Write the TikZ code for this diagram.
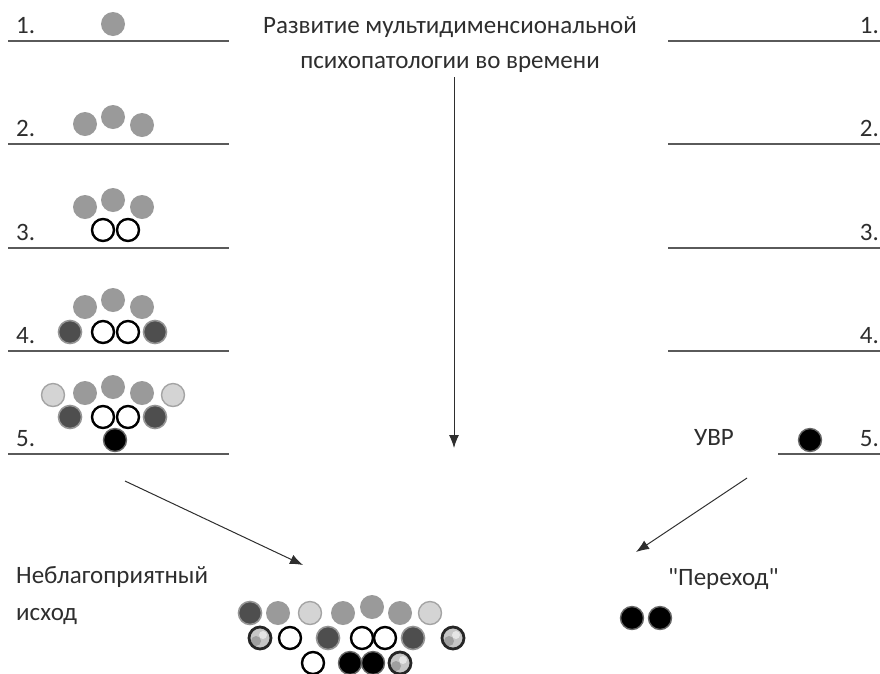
\documentclass[tikz,border=0pt]{standalone}
\usepackage{fontspec}
\setmainfont{Carlito}[Ligatures=TeXOff]
\usetikzlibrary{positioning}
\usetikzlibrary{arrows.meta}

\definecolor{ink}{HTML}{2E2E2E}
\definecolor{rulegrey}{HTML}{5A5A5A}
\definecolor{midgrey}{HTML}{9A9A9A}
\definecolor{palegrey}{HTML}{D4D4D4}
\definecolor{darkgrey}{HTML}{4E4E4E}

\tikzset{
  dot/.style={circle, minimum size=24pt, inner sep=0pt},
  greydot/.style={dot, fill=midgrey},
  paledot/.style={dot, fill=palegrey, draw=midgrey!90, line width=1.4pt, minimum size=23pt},
  darkdot/.style={dot, fill=darkgrey, draw=darkgrey!60, line width=1.6pt, minimum size=23pt},
  opendot/.style={dot, fill=white, draw=black, line width=2.4pt, minimum size=22pt},
  blackdot/.style={dot, fill=black, draw=black!60, line width=1.4pt, minimum size=23pt},
  mixdot/.style={dot, fill=gray!45, draw=black!85, line width=2.8pt, minimum size=22pt,
    path picture={
      \fill[gray!75] ([shift={(-4pt,-3pt)}]path picture bounding box.center) circle (5pt);
      \fill[gray!20] ([shift={(3pt,3pt)}]path picture bounding box.center) circle (4pt);
    }},
  txt/.style={font=\fontsize{25}{30}\selectfont, text=ink, inner sep=0pt},
  level/.style={draw=rulegrey, line width=1.6pt},
  flow/.style={draw=ink, line width=1pt, -{Latex[length=13pt,width=10pt]}}
}

\begin{document}
\begin{tikzpicture}[x=1pt,y=-1pt]
  \useasboundingbox (0,0) rectangle (880,673);
  % title
  \node[txt, anchor=base] (title1) at (450,33) {Развитие мультидименсиональной};
  \node[txt, anchor=base] (title2) at (450,68) {психопатологии во времени};
  % levels, left and right
  \foreach \y/\n in {41/1,144/2,248/3,351/4,454/5} {
    \draw[level] (8,\y) -- (229,\y);
    \node[txt, anchor=base west] (left\n) at (16,\y-8) {\n.};
    \node[txt, anchor=base east] (right\n) at (879,\y-8) {\n.};
  }
  \foreach \y in {41,144,248,351} {
    \draw[level] (668,\y) -- (880,\y);
  }
  \draw[level] (778,454) -- (880,454);
  % level 1
  \node[greydot] (a1) at (113,24) {};
  % level 2
  \node[greydot] (b1) at (85,124) {};
  \node[greydot] (b2) at (113,117) {};
  \node[greydot] (b3) at (142,125) {};
  % level 3
  \node[greydot] (c1) at (85,207) {};
  \node[greydot] (c2) at (113,200) {};
  \node[greydot] (c3) at (142,207) {};
  \node[opendot] (c4) at (103,230) {};
  \node[opendot] (c5) at (128,230) {};
  % level 4
  \node[greydot] (d1) at (85,307) {};
  \node[greydot] (d2) at (113,300) {};
  \node[greydot] (d3) at (142,307) {};
  \node[darkdot] (d4) at (70,332) {};
  \node[opendot] (d5) at (103,332) {};
  \node[opendot] (d6) at (128,332) {};
  \node[darkdot] (d7) at (155,332) {};
  % level 5
  \node[paledot] (e1) at (53,395) {};
  \node[greydot] (e2) at (85,393) {};
  \node[greydot] (e3) at (113,387) {};
  \node[greydot] (e4) at (142,393) {};
  \node[paledot] (e5) at (173,395) {};
  \node[darkdot] (e6) at (70,417) {};
  \node[opendot] (e7) at (103,417) {};
  \node[opendot] (e8) at (128,417) {};
  \node[darkdot] (e9) at (155,417) {};
  \node[blackdot] (e10) at (115,440) {};
  % right side
  \node[txt] (uvr) at (714,438) {УВР};
  \node[blackdot] (uvrdot) at (810,440) {};
  % outcomes
  \node[txt, anchor=base west] (bad1) at (16,583) {Неблагоприятный};
  \node[txt, anchor=base west] (bad2) at (16,620) {исход};
  \node[txt, anchor=base west] (trans) at (668,585) {"Переход"};
  \node[blackdot] (t1) at (632,618) {};
  \node[blackdot] (t2) at (660,618) {};
  % unfavourable cluster
  \node[darkdot] (f1) at (250,613) {};
  \node[greydot] (f2) at (278,613) {};
  \node[paledot] (f3) at (310,613) {};
  \node[greydot] (f4) at (343,613) {};
  \node[greydot] (f5) at (372,607) {};
  \node[greydot] (f6) at (400,613) {};
  \node[paledot] (f7) at (430,613) {};
  \node[mixdot] (g1) at (260,638) {};
  \node[opendot] (g2) at (290,638) {};
  \node[darkdot] (g3) at (328,638) {};
  \node[opendot] (g4) at (362,638) {};
  \node[opendot] (g5) at (385,638) {};
  \node[darkdot] (g6) at (413,638) {};
  \node[mixdot] (g7) at (453,638) {};
  \node[opendot] (h1) at (313,663) {};
  \node[blackdot] (h2) at (350,663) {};
  \node[blackdot] (h3) at (373,663) {};
  \node[mixdot] (h4) at (400,663) {};
  % arrows
  \coordinate (flowtop) at (454,77);
  \coordinate (flowend) at (454,448);
  \coordinate (badstart) at (125,481);
  \coordinate (badend) at (303,565);
  \coordinate (transstart) at (747,478);
  \coordinate (transend) at (636,552);
  \draw[flow] (flowtop) -- (flowend);
  \draw[flow] (badstart) -- (badend);
  \draw[flow] (transstart) -- (transend);
\end{tikzpicture}
\end{document}
